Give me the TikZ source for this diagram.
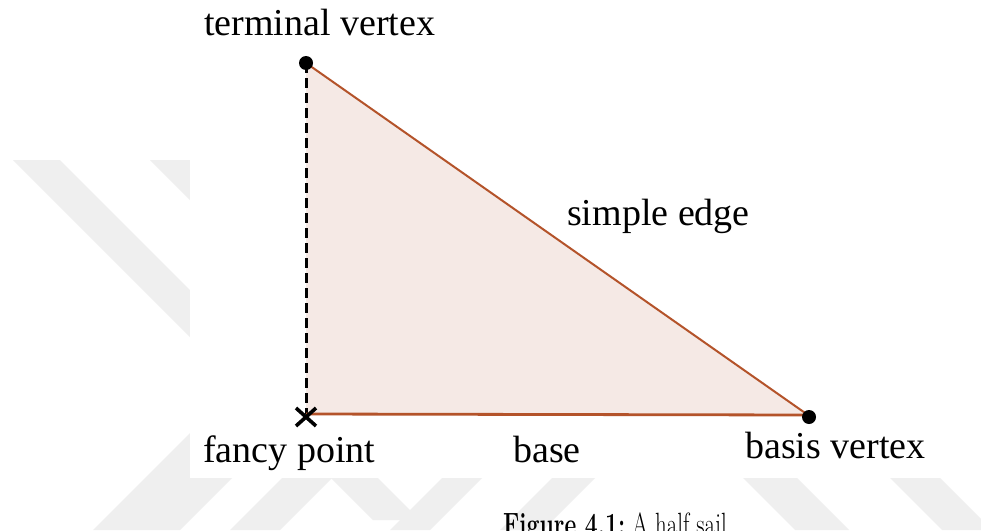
\documentclass[tikz,border=0pt]{standalone}
\usepackage{fontspec}
\newfontfamily\sailfont{Liberation Serif}
\definecolor{sailfill}{HTML}{F5E9E5}
\definecolor{sailedge}{HTML}{B4532A}
\definecolor{wmark}{HTML}{EFEFEF}
\begin{document}
\begin{tikzpicture}[x=1pt,y=-1pt,
  lbl/.style={anchor=base west,inner sep=0pt,font=\sailfont\fontsize{38}{44}\selectfont},
  stripe/.style={fill=wmark,draw=none},
  edgeline/.style={draw=sailedge,line width=2pt},
  baseline/.style={draw=sailedge,line width=2.8pt},
  dashline/.style={draw=black,line width=3pt,dash pattern=on 10pt off 5pt},
  vdot/.style={circle,fill=black,inner sep=0pt,minimum size=14pt},
  crossline/.style={draw=black,line width=3.6pt}]
\useasboundingbox (0,0) rectangle (981,530);
% watermark stripes
\fill[white] (0,0) rectangle (981,530);
\path[stripe] (13,160) -- (60,160) -- (420,520) -- (373,520) -- cycle;
\path[stripe] (150,160) -- (200,160) -- (400,360) -- (350,360) -- cycle;
\path[stripe] (93,530) -- (180,530) -- (330,380) -- (243,380) -- cycle;
\path[stripe] (230,530) -- (280,530) -- (380,430) -- (330,430) -- cycle;
\path[stripe] (390,530) -- (430,530) -- (530,430) -- (490,430) -- cycle;
\path[stripe] (500,530) -- (543,530) -- (643,430) -- (600,430) -- cycle;
\path[stripe] (743,478) -- (797,478) -- (849,530) -- (795,530) -- cycle;
\path[stripe] (890,478) -- (940,478) -- (992,530) -- (942,530) -- cycle;
% white panel of the figure
\fill[white] (190,0) rectangle (981,478);
% vertices
\coordinate (T) at (306,63);
\coordinate (F) at (306,414);
\coordinate (B) at (808,415);
\coordinate (X) at (306,417);
% sail
\fill[sailfill] (T) -- (F) -- (B) -- cycle;
\draw[dashline] (T) -- (F);
\draw[baseline] (F) -- (B);
\draw[edgeline] (T) -- (B);
\node[vdot] (tv) at (T) {};
\node[vdot] (bv) at ([shift={(1,2)}]B) {};
\draw[crossline] ([shift={(-10,-9)}]X) coordinate (x1) -- ([shift={(10,9)}]X) coordinate (x2);
\draw[crossline] ([shift={(-10,9)}]X) coordinate (x3) -- ([shift={(10,-9)}]X) coordinate (x4);
% labels
\node[lbl] (lt) at (204,35) {terminal vertex};
\node[lbl] (ls) at (567,225) {simple edge};
\node[lbl] (lf) at (203,462) {fancy point};
\node[lbl] (lb) at (513,462) {base};
\node[lbl] (lv) at (745,458) {basis vertex};
% caption
\node[anchor=base west,inner sep=0pt,font=\fontsize{23}{27}\selectfont] (cap) at (503,535) {\scalebox{1}[1.4]{\textbf{Figure 4.1:}\ A half sail}};
\end{tikzpicture}
\end{document}
